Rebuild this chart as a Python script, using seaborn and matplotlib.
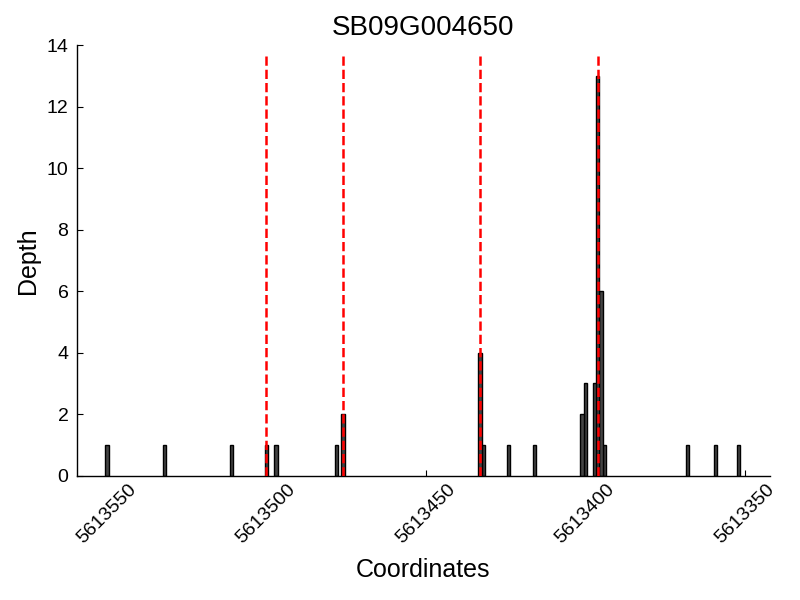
import numpy as np
import pandas as pd
import matplotlib
matplotlib.use("Agg")
import matplotlib.pyplot as plt
import seaborn as sns
from matplotlib.ticker import ScalarFormatter

title = "SB09G004650"
coords = [5613550, 5613532, 5613511, 5613500, 5613497, 5613478, 5613476,
          5613433, 5613432, 5613424, 5613416, 5613401, 5613400, 5613397,
          5613396, 5613395, 5613394, 5613368, 5613359, 5613352]
depths = [1, 1, 1, 1, 1, 1, 2,
          4, 1, 1, 1, 2, 3, 3,
          13, 6, 1, 1, 1, 1]
sites = [5613500, 5613476, 5613433, 5613396]
xticks = [5613550, 5613500, 5613450, 5613400, 5613350]
yticks = [0, 2, 4, 6, 8, 10, 12, 14]
xlim = (5613559.5, 5613342)

sns.set_style("ticks", {"xtick.direction": "in", "ytick.direction": "in",
                        "text.color": "black", "axes.labelcolor": "black",
                        "xtick.color": "black", "ytick.color": "black",
                        "axes.edgecolor": "black"})
plt.rcParams['font.family'] = ['Liberation Sans', 'DejaVu Sans']

df = pd.DataFrame({"Coordinates": coords, "Depth": depths})

fig = plt.figure(figsize=(8, 6), dpi=100)
ax = fig.add_axes([0.096, 0.207, 0.8665, 0.718])

sns.barplot(data=df, x="Coordinates", y="Depth", native_scale=True,
            width=1.0, color="#444444", saturation=1, errorbar=None,
            edgecolor="black", linewidth=1.0, ax=ax)

ax.vlines(sites, 0, max(depths) * 1.06, colors="red", linestyles="--",
          linewidth=1.8, zorder=5)

ax.set_xlim(*xlim)
ax.set_ylim(0, 14)
ax.set_xticks(xticks)
ax.set_yticks(yticks)
fmt = ScalarFormatter(useOffset=False)
fmt.set_scientific(False)
ax.xaxis.set_major_formatter(fmt)
ax.tick_params(axis="both", labelsize=14, length=4, width=0.8,
               color="black", labelcolor="black")
ax.tick_params(axis="y", pad=6)
for lab in ax.get_xticklabels():
    lab.set_rotation(45)
ax.set_xlabel("Coordinates", fontsize=18, labelpad=8, color="black")
ax.set_ylabel("Depth", fontsize=18, labelpad=5, color="black")
ax.set_title(title, fontsize=20, color="black", pad=7)
sns.despine(ax=ax, top=True, right=True)
for s in ["left", "bottom"]:
    ax.spines[s].set_color("black")
    ax.spines[s].set_linewidth(1.0)

fig.savefig("out.png", dpi=100)
